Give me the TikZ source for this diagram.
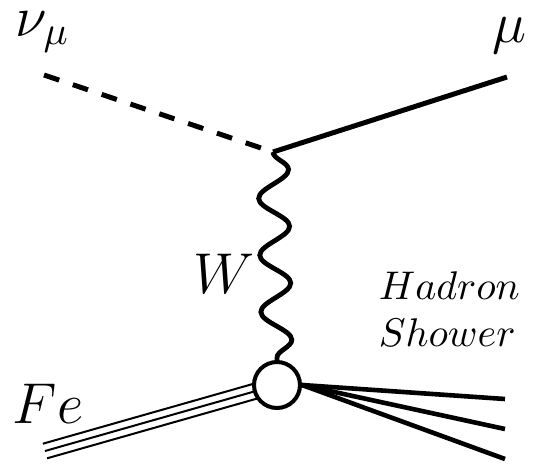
\documentclass[tikz,border=0pt]{standalone}
\usetikzlibrary{decorations.pathmorphing,calc,backgrounds}
\begin{document}
\begin{tikzpicture}[x=0.25pt,y=-0.25pt,
  lbl/.style={inner sep=0pt,anchor=base west,font=\fontsize{14.4}{17}\selectfont},
  slbl/.style={inner sep=0pt,anchor=base west,font=\fontsize{10.3}{12}\selectfont},
  fermion/.style={line width=1.25pt},
  scalar/.style={line width=1.25pt,dash pattern=on 4pt off 3.6pt},
  boson/.style={line width=1.2pt,decorate,decoration={snake,segment length=14.2pt,amplitude=3.8pt}},
  hadron/.style={line width=1.15pt},
  nucl/.style={line width=0.5pt},
  blob/.style={circle,draw,fill=white,line width=1pt,minimum size=11.5pt,inner sep=0pt}]
\useasboundingbox (0,0) rectangle (539,464);
\coordinate (v1) at (273,152);
\coordinate (nu) at (44,75);
\coordinate (mu) at (507,77);
\coordinate (fe) at (45,451);
\coordinate (h1) at (505,399);
\coordinate (h2) at (505,429);
\coordinate (h3) at (505,459);
\node[blob] (v2) at (277,385) {};
\begin{pgfonlayer}{background}
\draw[scalar] (nu) -- (v1);
\draw[fermion] (v1) -- (mu);
\draw[boson] (v1) -- (v2.north);
\draw[nucl] (fe) -- (v2.center);
\draw[nucl] ($(fe)!1.9pt!90:(v2.center)$) -- ($(v2.center)!1.9pt!-90:(fe)$);
\draw[nucl] ($(fe)!1.9pt!-90:(v2.center)$) -- ($(v2.center)!1.9pt!90:(fe)$);
\draw[hadron] (v2.east) -- (h1);
\draw[hadron] (v2.east) -- (h2);
\draw[hadron] (v2.east) -- (h3);
\end{pgfonlayer}
\node[lbl] (lnu) at (15,36) {$\nu_\mu$};
\node[lbl] (lmu) at (492,42) {$\mu$};
\node[lbl] (lW) at (193,293) {$W$};
\node[lbl] (lFe) at (12,423) {$Fe$};
\node[slbl] (lh1) at (378,299) {$Hadron$};
\node[slbl] (lh2) at (378,346) {$Shower$};
\end{tikzpicture}
\end{document}
